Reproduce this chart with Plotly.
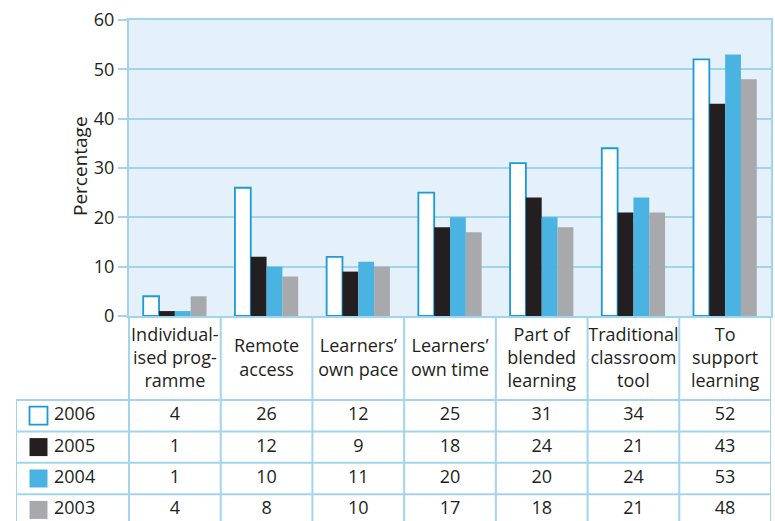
import plotly.graph_objects as go

# --- data -------------------------------------------------------------
categories = [
    "Individual-<br>ised prog-<br>ramme",
    "Remote<br>access",
    "Learners’<br>own pace",
    "Learners’<br>own time",
    "Part of<br>blended<br>learning",
    "Traditional<br>classroom<br>tool",
    "To<br>support<br>learning",
]
years = ["2006", "2005", "2004", "2003"]
values_2006 = [4, 26, 12, 25, 31, 34, 52]
values_2005 = [1, 12, 9, 18, 24, 21, 43]
values_2004 = [1, 10, 11, 20, 20, 24, 53]
values_2003 = [4, 8, 10, 17, 18, 21, 48]
y_ticks = [0, 10, 20, 30, 40, 50, 60]

series = [values_2006, values_2005, values_2004, values_2003]

# --- styling ----------------------------------------------------------
W, H = 775, 521
FONT = "Open Sans"
TXT = "#231f20"
LINE = "#a3d4ee"
BG = "#e4f1fa"
fills = ["#ffffff", "#231f20", "#4ab3e2", "#a7a9ac"]
outlines = ["#1b9ad7", "#231f20", "#4ab3e2", "#a7a9ac"]
outline_w = [1.8, 0, 0, 0]

# pixel frame of the chart and the table beneath it
PLOT_L, PLOT_R, PLOT_T, PLOT_B = 129, 771, 20, 316
TABLE_L = 16
col_px = (PLOT_R - PLOT_L) / len(categories)
legend_cols = (PLOT_L - TABLE_L) / col_px
row_px = 31.4
header_rows = 84 / row_px
table_bottom = (H - PLOT_B) / row_px

fig = go.Figure()

# bars
for yr, vals, fc, lc, lw in zip(years, series, fills, outlines, outline_w):
    fig.add_trace(go.Bar(
        x=categories, y=vals, name=yr,
        marker=dict(color=fc, line=dict(color=lc, width=lw)),
        xaxis="x", yaxis="y", showlegend=False, hoverinfo="skip",
    ))

# table: header labels
idx = list(range(len(categories)))
fig.add_trace(go.Scatter(
    x=idx, y=[header_rows / 2 + 0.05] * len(idx), text=categories,
    mode="text", textposition="middle center",
    textfont=dict(family=FONT, size=18, color=TXT),
    xaxis="x2", yaxis="y2", showlegend=False, hoverinfo="skip", cliponaxis=False,
))

# table: value rows with legend swatches
for r, (yr, vals, fc, lc) in enumerate(zip(years, series, fills, outlines)):
    yc = header_rows + r + 0.5
    fig.add_trace(go.Scatter(
        x=idx, y=[yc] * len(idx), text=[str(v) for v in vals],
        mode="text", textposition="middle center",
        textfont=dict(family=FONT, size=18, color=TXT),
        xaxis="x2", yaxis="y2", showlegend=False, hoverinfo="skip", cliponaxis=False,
    ))
    fig.add_trace(go.Scatter(
        x=[-0.5 - legend_cols + (38.5 - TABLE_L) / col_px], y=[yc],
        mode="markers",
        marker=dict(symbol="square", size=18, color=fc,
                    line=dict(color=lc, width=1.8 if fc == "#ffffff" else 0)),
        xaxis="x2", yaxis="y2", showlegend=False, hoverinfo="skip", cliponaxis=False,
    ))
    fig.add_trace(go.Scatter(
        x=[-0.5 - legend_cols + (54 - TABLE_L) / col_px], y=[yc], text=[yr],
        mode="text", textposition="middle right",
        textfont=dict(family=FONT, size=18, color=TXT),
        xaxis="x2", yaxis="y2", showlegend=False, hoverinfo="skip", cliponaxis=False,
    ))

# chart background (only behind the bars, the table stays white)
shapes = [dict(type="rect", xref="x domain", yref="y domain",
               x0=0, x1=1, y0=0, y1=1, layer="below",
               fillcolor=BG, line=dict(width=0))]

# table rules
for k in range(len(categories) + 1):
    shapes.append(dict(type="line", xref="x2", yref="y2",
                       x0=k - 0.5, x1=k - 0.5, y0=0, y1=table_bottom,
                       line=dict(color=LINE, width=2)))
shapes.append(dict(type="line", xref="x2", yref="y2",
                   x0=-0.5 - legend_cols, x1=-0.5 - legend_cols,
                   y0=header_rows, y1=table_bottom, line=dict(color=LINE, width=2)))
for r in range(len(years)):
    yl = header_rows + r
    shapes.append(dict(type="line", xref="x2", yref="y2",
                       x0=-0.5 - legend_cols, x1=len(categories) - 0.5,
                       y0=yl, y1=yl, line=dict(color=LINE, width=2)))

fig.update_layout(
    template="none",
    width=W, height=H,
    margin=dict(l=0, r=0, t=0, b=0, pad=0, autoexpand=False),
    paper_bgcolor="white", plot_bgcolor="white",
    barmode="group", bargap=0.31, bargroupgap=0,
    font=dict(family=FONT, color=TXT),
    xaxis=dict(domain=[PLOT_L / W, PLOT_R / W], anchor="y", automargin=False,
               showticklabels=False, ticks="", showgrid=False, zeroline=False,
               showline=True, linecolor=LINE, linewidth=2, mirror=True,
               range=[-0.5, len(categories) - 0.5]),
    yaxis=dict(domain=[(H - PLOT_B) / H, (H - PLOT_T) / H], anchor="x",
               automargin=False, range=[0, 60], tickvals=y_ticks,
               tickfont=dict(family=FONT, size=18, color=TXT),
               ticks="outside", ticklen=9, tickwidth=2, tickcolor=LINE,
               showgrid=True, gridcolor=LINE, gridwidth=2, zeroline=False,
               showline=True, linecolor=LINE, linewidth=2, mirror=True),
    xaxis2=dict(domain=[TABLE_L / W, PLOT_R / W], anchor="y2", automargin=False,
                range=[-0.5 - legend_cols, len(categories) - 0.5],
                visible=False),
    yaxis2=dict(domain=[0, (H - PLOT_B) / H], anchor="x2", automargin=False,
                range=[table_bottom, 0], visible=False),
    shapes=shapes,
    annotations=[dict(
        text="Percentage", textangle=-90, showarrow=False,
        xref="paper", yref="paper", x=79.5 / W, y=(H - 166.5) / H,
        xanchor="center", yanchor="middle",
        font=dict(family=FONT, size=19, color=TXT),
    )],
)

fig.write_html("out.html")
